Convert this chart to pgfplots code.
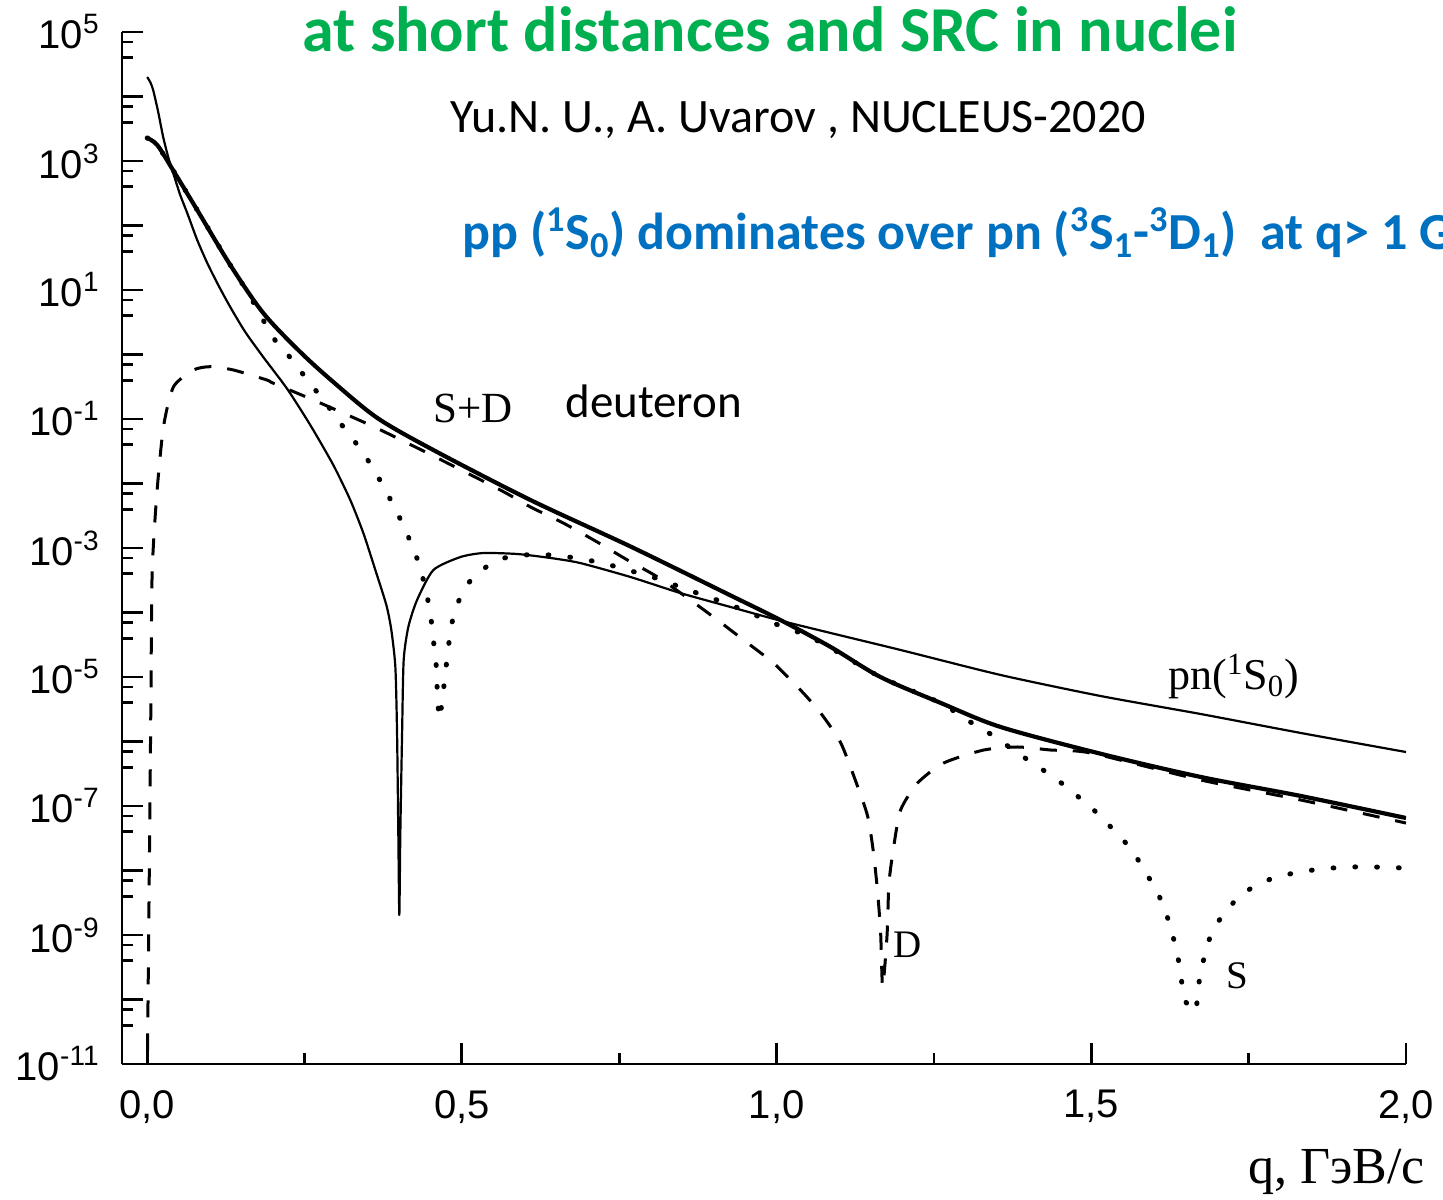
\documentclass[border=0pt]{standalone}
\usepackage{fontspec}
\setmainfont{Liberation Sans}
\newfontfamily\calibri{Carlito}
\newfontfamily\serif{Liberation Serif}
\usepackage{xcolor}
\usepackage{pgfplots}
\usepackage{pgfplotstable}
\pgfplotsset{compat=1.18}
\usetikzlibrary{calc}
\definecolor{titlegreen}{RGB}{0,176,80}
\definecolor{noteblue}{RGB}{0,112,192}

% q in GeV/c, L = log10 of the momentum distribution
\pgfplotstableread{
q L
0.000 3.357
0.016 3.248
0.041 2.860
0.0795 2.240
0.132 1.388
0.1844 0.643
0.2432 0.039
0.2957 -0.426
0.3657 -0.984
0.4547 -1.481
0.609 -2.256
0.768 -2.977
0.927 -3.736
1.006 -4.116
1.086 -4.535
1.165 -5.000
1.261 -5.403
1.356 -5.775
1.515 -6.190
1.674 -6.550
1.833 -6.845
2.000 -7.186
}\tabsd

\pgfplotstableread{
q L
0.000 4.302
0.0048 4.225
0.0095 4.101
0.0175 3.760
0.0254 3.372
0.0334 3.062
0.0413 2.814
0.0525 2.473
0.0636 2.194
0.0795 1.775
0.0954 1.419
0.1129 1.078
0.1320 0.736
0.1558 0.349
0.1844 -0.039
0.2226 -0.535
0.2591 -1.093
0.2957 -1.713
0.3227 -2.256
0.3434 -2.767
0.3625 -3.341
0.3800 -3.884
0.3879 -4.271
0.3943 -4.845
0.397 -5.868
0.399 -7.420
0.4006 -8.690
0.4022 -7.420
0.405 -5.870
0.4075 -4.740
0.415 -4.220
0.4288 -3.806
0.4547 -3.341
0.4976 -3.140
0.534 -3.078
0.588 -3.093
0.641 -3.155
0.688 -3.233
0.768 -3.450
0.847 -3.698
0.927 -3.915
1.002 -4.116
1.086 -4.318
1.197 -4.581
1.356 -4.969
1.515 -5.295
1.674 -5.574
1.833 -5.868
2.000 -6.163
}\tabpn

\pgfplotstableread{
q L
0.000 -11.30
0.0021 -9.30
0.0037 -7.68
0.0058 -5.50
0.0079 -3.388
0.0154 -2.152
0.0259 -1.120
0.0418 -0.500
0.0736 -0.240
0.100 -0.189
0.137 -0.240
0.190 -0.395
0.2008 -0.447
0.264 -0.705
0.360 -1.120
0.450 -1.550
0.561 -2.100
0.609 -2.364
0.661 -2.612
0.715 -2.907
0.763 -3.186
0.811 -3.450
0.863 -3.806
0.906 -4.116
0.9475 -4.426
0.995 -4.783
1.038 -5.202
1.070 -5.558
1.102 -6.023
1.129 -6.705
1.145 -7.171
1.154 -7.729
1.1606 -8.349
1.1653 -8.969
1.1685 -9.806
1.1755 -9.000
1.1785 -8.200
1.186 -7.636
1.197 -7.062
1.224 -6.643
1.2655 -6.333
1.329 -6.132
1.383 -6.085
1.4356 -6.132
1.499 -6.178
1.674 -6.597
1.833 -6.907
2.000 -7.264
}\tabd

\pgfplotstableread{
q L
0.000 3.357
0.016 3.248
0.041 2.860
0.0795 2.240
0.132 1.388
0.158 0.990
0.1797 0.620
0.2003 0.260
0.2305 -0.085
0.2544 -0.395
0.280 -0.705
0.3068 -1.062
0.3339 -1.403
0.3577 -1.744
0.3784 -2.101
0.3975 -2.457
0.415 -2.829
0.4308 -3.217
0.442 -3.620
0.450 -4.023
0.4547 -4.426
0.4595 -4.845
0.461 -5.248
0.4642 -5.651
0.469 -5.341
0.4738 -4.938
0.4785 -4.535
0.4849 -4.132
0.4976 -3.760
0.5183 -3.450
0.5564 -3.186
0.5978 -3.109
0.6407 -3.109
0.6804 -3.155
0.7234 -3.233
0.7631 -3.341
0.8029 -3.450
0.8426 -3.589
0.8824 -3.729
0.9189 -3.853
0.9587 -4.008
0.9984 -4.178
1.0382 -4.318
1.0779 -4.504
1.165 -5.000
1.261 -5.403
1.297 -5.636
1.335 -5.853
1.404 -6.318
1.440 -6.550
1.472 -6.798
1.504 -7.062
1.534 -7.357
1.563 -7.667
1.587 -8.039
1.607 -8.380
1.623 -8.783
1.634 -9.186
1.642 -9.574
1.647 -9.977
1.665 -10.19
1.671 -9.744
1.679 -9.357
1.690 -9.000
1.711 -8.659
1.742 -8.349
1.781 -8.147
1.822 -8.039
1.865 -7.977
1.908 -7.946
1.949 -7.946
2.000 -7.961
}\tabs

\begin{document}
\begin{tikzpicture}
\begin{axis}[
  scale only axis, width=642pt, height=516pt,
  xmin=-0.04, xmax=2.0,
  ymode=log, ymin=1e-11, ymax=1e5,
  axis lines*=left, tick align=inside,
  axis line style={line width=1.4pt},
  every tick/.style={black, line width=1.4pt},
  major tick length=10.5pt, minor tick length=5.5pt,
  xtick={0,0.5,1,1.5,2},
  xticklabels={{0,0},{0,5},{1,0},{1,5},{2,0}},
  minor xtick={0.25,0.75,1.25,1.75},
  ytick={1e-11,1e-10,1e-9,1e-8,1e-7,1e-6,1e-5,1e-4,1e-3,1e-2,1e-1,1,1e1,1e2,1e3,1e4,1e5},
  yticklabels={10\textsuperscript{-11},{},10\textsuperscript{-9},{},10\textsuperscript{-7},{},10\textsuperscript{-5},{},10\textsuperscript{-3},{},10\textsuperscript{-1},{},10\textsuperscript{1},{},10\textsuperscript{3},{},10\textsuperscript{5}},
  minor ytick={4e-11,7e-11,4e-10,7e-10,4e-9,7e-9,4e-8,7e-8,4e-7,7e-7,4e-6,7e-6,4e-5,7e-5,4e-4,7e-4,4e-3,7e-3,4e-2,7e-2,0.4,0.7,4,7,40,70,400,700,4e3,7e3,4e4,7e4},
  xticklabel style={font=\fontsize{20}{24}\selectfont, inner sep=0pt, yshift=-13pt},
  yticklabel style={font=\fontsize{20}{24}\selectfont, inner sep=0pt, xshift=-11pt},
  every axis plot/.append style={black, line join=round},
]
\addplot[line width=2.1pt, smooth, tension=0.5] table[x=q, y expr=10^(\thisrow{L})] {\tabsd};
\addplot[line width=1.1pt, smooth, tension=0.4] table[x=q, y expr=10^(\thisrow{L})] {\tabpn};
\addplot[line width=1.5pt, smooth, tension=0.4, dash pattern=on 8.5pt off 8pt] table[x=q, y expr=10^(\thisrow{L})] {\tabd};
\addplot[line width=2.5pt, smooth, tension=0.4, line cap=round, dash pattern=on 0.4pt off 10.5pt] table[x=q, y expr=10^(\thisrow{L})] {\tabs};
\coordinate (sw) at (rel axis cs:0,0);
\end{axis}

\node[anchor=base, inner sep=0pt, text=titlegreen, font=\calibri\bfseries\fontsize{32}{36}\selectfont] at ($(sw)+(324pt,506pt)$) {at short distances and SRC in nuclei};
\node[anchor=base west, inner sep=0pt, font=\calibri\fontsize{24}{28}\selectfont] at ($(sw)+(164pt,465.5pt)$) {Yu.N. U., A. Uvarov , NUCLEUS-2020};
\node[anchor=base west, inner sep=0pt, text=noteblue, font=\calibri\bfseries\fontsize{26}{30}\selectfont] at ($(sw)+(170pt,407pt)$) {pp (\textsuperscript{1}S\textsubscript{0}) dominates over pn (\textsuperscript{3}S\textsubscript{1}-\textsuperscript{3}D\textsubscript{1})\ \ at q> 1 GeV/c};
\node[anchor=base west, inner sep=0pt, font=\serif\fontsize{21.5}{26}\selectfont] at ($(sw)+(155.5pt,320.5pt)$) {S+D};
\node[anchor=base west, inner sep=0pt, font=\calibri\fontsize{23.5}{28}\selectfont] at ($(sw)+(221.5pt,323pt)$) {deuteron};
\node[anchor=base west, inner sep=0pt, font=\serif\fontsize{22}{26}\selectfont] at ($(sw)+(523pt,187pt)$) {pn(\textsuperscript{1}S\textsubscript{0})};
\node[anchor=base west, inner sep=0pt, font=\serif\fontsize{19.5}{24}\selectfont] at ($(sw)+(385.5pt,53.5pt)$) {D};
\node[anchor=base west, inner sep=0pt, font=\serif\fontsize{19.5}{24}\selectfont] at ($(sw)+(552pt,38pt)$) {S};
\node[anchor=base east, inner sep=0pt, font=\serif\fontsize{26}{30}\selectfont] at ($(sw)+(651.5pt,-59.5pt)$) {q, ГэВ/с};

\pgfresetboundingbox
\path ($(sw)+(-61pt,-67.5pt)$) rectangle ($(sw)+(660.5pt,532pt)$);
\end{tikzpicture}
\end{document}
